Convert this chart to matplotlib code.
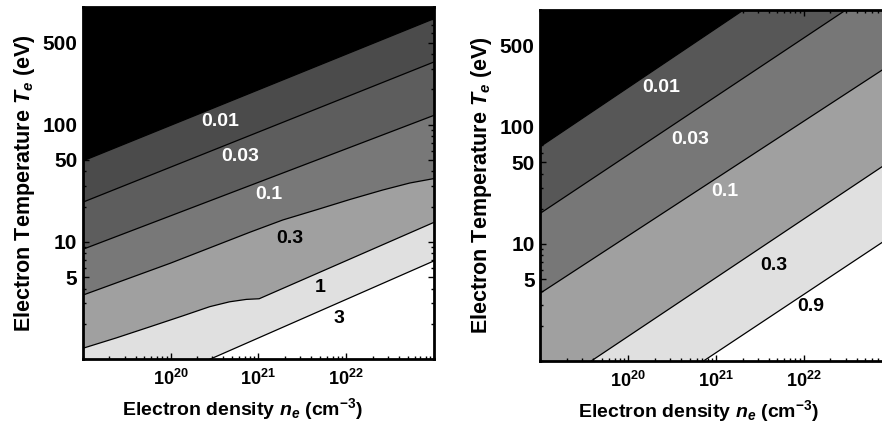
"""
Two-panel contour map of electron density vs temperature (filled grey bands).
"""
import matplotlib
matplotlib.use("Agg")
import matplotlib.pyplot as plt
from matplotlib.ticker import FixedLocator, LogLocator, NullFormatter, FixedFormatter

plt.rcParams["font.family"] = ["Liberation Sans", "DejaVu Sans"]
plt.rcParams["font.weight"] = "bold"
plt.rcParams["mathtext.fontset"] = "custom"
plt.rcParams["mathtext.rm"] = "Liberation Sans:bold"
plt.rcParams["mathtext.it"] = "Liberation Sans:bold:italic"
plt.rcParams["mathtext.bf"] = "Liberation Sans:bold"

# ---- left panel: contour lines (ne in cm^-3, Te in eV) ----
left_levels = ["0.01", "0.03", "0.1", "0.3", "1", "3"]
left_ne = [
    [1e19, 1e23],
    [1e19, 1e23],
    [1e19, 1e23],
    [1e19, 1e20, 8.0e20, 1.9e21, 4.7e21, 1.1e22, 2.6e22, 5.3e22, 1e23],
    [1e19, 2.4e19, 5.8e19, 1.39e20, 2.8e20, 4.7e20, 7.3e20, 1.02e21, 1e23],
    [2.8e20, 1e23],
]
left_te = [
    [49, 800],
    [21.8, 342],
    [8.65, 120],
    [3.52, 6.6, 12.1, 15.4, 18.9, 23, 27.7, 31.8, 34.7],
    [1.24, 1.52, 1.89, 2.35, 2.81, 3.09, 3.24, 3.28, 14.7],
    [1.0, 6.9],
]
left_label_ne = [3.7e20, 6.2e20, 1.3e21, 2.3e21, 5.0e21, 8.2e21]
left_label_te = [106, 53, 25.6, 10.7, 4.1, 2.23]
left_label_color = ["white", "white", "white", "black", "black", "black"]
left_colors = ["#4b4b4b", "#5d5d5d", "#787878", "#a0a0a0", "#e0e0e0", "white"]

# ---- right panel ----
right_levels = ["0.01", "0.03", "0.1", "0.3", "0.9"]
right_ne = [
    [1e19, 2.05e21],
    [1e19, 3.0e22],
    [1e19, 1e23],
    [3.8e19, 1e23],
    [7.2e20, 1e23],
]
right_te = [
    [68, 1000],
    [18.3, 1000],
    [3.8, 347],
    [1.0, 52],
    [1.0, 11.7],
]
right_label_ne = [2.4e20, 5.1e20, 1.27e21, 4.5e21, 1.19e22]
right_label_te = [218, 78.5, 28, 6.5, 2.95]
right_label_color = ["white", "white", "white", "black", "black"]
right_colors = ["#575757", "#777777", "#a0a0a0", "#e0e0e0", "white"]

y_ticks = [5, 10, 50, 100, 500]
y_ticklabels = ["5", "10", "50", "100", "500"]
x_ticks = [1e20, 1e21, 1e22]
x_ticklabels = [r"$10^{20}$", r"$10^{21}$", r"$10^{22}$"]


def draw_panel(ax, ne_lines, te_lines, colors, levels, lab_ne, lab_te, lab_col,
               xlabel_x):
    ax.set_xscale("log")
    ax.set_yscale("log")
    ax.set_xlim(1e19, 1e23)
    ax.set_ylim(1, 1000)
    ax.set_facecolor("black")
    big, small = 1e30, 1e-5
    # fill everything below/right of each line, darkest first
    for ne, te, col in zip(ne_lines, te_lines, colors):
        xs = list(ne) + [big, big, ne[0]]
        ys = list(te) + [te[-1], small, small]
        ax.fill(xs, ys, color=col, lw=0, zorder=1)
    for ne, te in zip(ne_lines, te_lines):
        ax.plot(ne, te, color="black", lw=0.9, zorder=2)
    for txt, x, y, c in zip(levels, lab_ne, lab_te, lab_col):
        ax.text(x, y, txt, color=c, fontsize=14, fontweight="bold",
                ha="center", va="center", zorder=3)

    ax.yaxis.set_major_locator(FixedLocator(y_ticks))
    ax.yaxis.set_major_formatter(FixedFormatter(y_ticklabels))
    ax.yaxis.set_minor_locator(LogLocator(base=10, subs=range(1, 10), numticks=20))
    ax.yaxis.set_minor_formatter(NullFormatter())
    ax.xaxis.set_major_locator(FixedLocator(x_ticks))
    ax.xaxis.set_major_formatter(FixedFormatter(x_ticklabels))
    ax.xaxis.set_minor_locator(LogLocator(base=10, subs=range(1, 10), numticks=20))
    ax.xaxis.set_minor_formatter(NullFormatter())
    ax.tick_params(which="both", direction="in", top=True, right=True, width=1.0)
    ax.tick_params(which="major", length=4)
    ax.tick_params(axis="y", which="major", labelsize=15, pad=4)
    ax.tick_params(axis="x", which="major", labelsize=13, pad=7)
    ax.tick_params(which="minor", length=2)
    for sp in ax.spines.values():
        sp.set_linewidth(2.0)
        sp.set_zorder(5)
    ax.set_xlabel(r"Electron density $n_e$ (cm$^{-3}$)", fontsize=14,
                  fontweight="bold")
    ax.xaxis.set_label_coords(xlabel_x, -0.105)
    ax.set_ylabel(r"Electron Temperature $T_e$ (eV)", fontsize=15.5,
                  fontweight="bold", labelpad=4)


fig = plt.figure(figsize=(8.82, 4.23), dpi=100)
ax1 = fig.add_axes([0.0938, 0.1506, 0.3983, 0.8322])
ax2 = fig.add_axes([0.6126, 0.1466, 0.3985, 0.8298])

draw_panel(ax1, left_ne, left_te, left_colors, left_levels,
           left_label_ne, left_label_te, left_label_color, 0.456)
draw_panel(ax2, right_ne, right_te, right_colors, right_levels,
           right_label_ne, right_label_te, right_label_color, 0.449)

fig.savefig("out.png", dpi=100)
plt.close(fig)
